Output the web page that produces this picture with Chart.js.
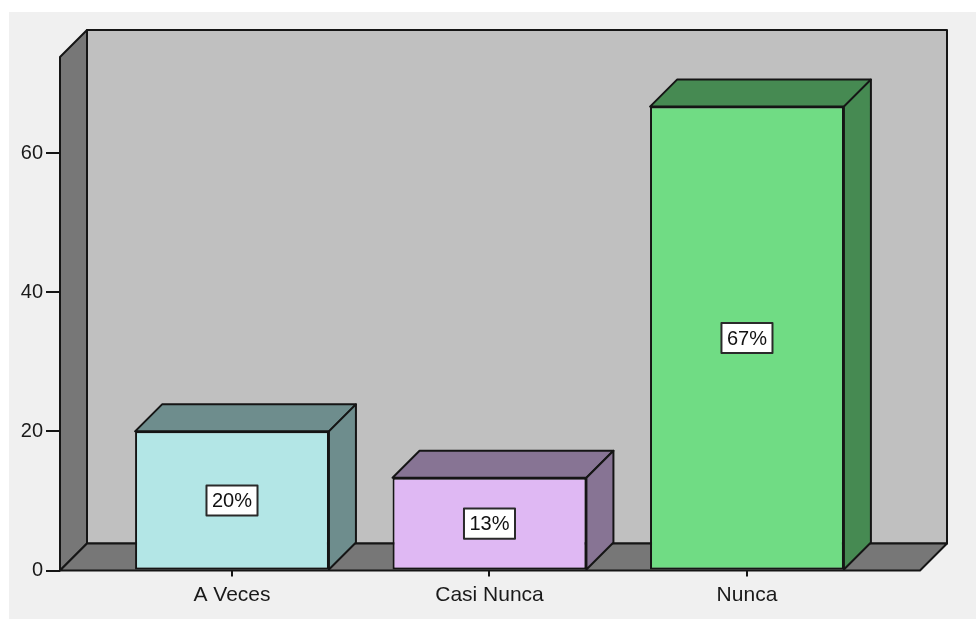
<!DOCTYPE html>
<html lang="es">
<head>
    <meta charset="UTF-8">
    <title>Frecuencia</title>
    <style>
        html, body { margin: 0; padding: 0; background: #ffffff; }
        #wrap { width: 976px; height: 619px; }
    </style>
</head>
<body>
    <div id="wrap"><canvas id="myChart"></canvas></div>

    <script src="https://cdn.jsdelivr.net/npm/chart.js"></script>
    <script>
        // Datos del gráfico
        const categorias = ['A Veces', 'Casi Nunca', 'Nunca'];
        const porcentajes = [20, 13.33, 66.67];
        const ticksY = [0, 20, 40, 60];

        const coloresFrente = ['#b3e6e6', '#dfb8f3', '#70dc84'];
        const coloresLado = ['#6e8d8d', '#877494', '#468a52'];

        const prof = 27; // profundidad del efecto 3D
        const fuente = '"Liberation Sans", Arial, sans-serif';

        // Fondo, paredes y piso
        const fondo3D = {
            id: 'fondo3D',
            beforeDraw(chart) {
                const ctx = chart.ctx;
                const a = chart.chartArea;
                ctx.save();
                ctx.fillStyle = '#ffffff';
                ctx.fillRect(0, 0, chart.width, chart.height);
                ctx.fillStyle = '#f0f0f0';
                ctx.fillRect(9, 12, chart.width - 9, chart.height - 12);

                ctx.lineWidth = 2;
                ctx.strokeStyle = '#151515';
                ctx.lineJoin = 'round';

                // pared del fondo
                ctx.fillStyle = '#c0c0c0';
                ctx.beginPath();
                ctx.rect(a.left + prof, a.top - prof, a.right - a.left, a.bottom - a.top);
                ctx.fill();
                ctx.stroke();

                // pared izquierda
                ctx.fillStyle = '#777777';
                ctx.beginPath();
                ctx.moveTo(a.left, a.top);
                ctx.lineTo(a.left + prof, a.top - prof);
                ctx.lineTo(a.left + prof, a.bottom - prof);
                ctx.lineTo(a.left, a.bottom);
                ctx.closePath();
                ctx.fill();
                ctx.stroke();

                // piso
                ctx.beginPath();
                ctx.moveTo(a.left, a.bottom);
                ctx.lineTo(a.left + prof, a.bottom - prof);
                ctx.lineTo(a.right + prof, a.bottom - prof);
                ctx.lineTo(a.right, a.bottom);
                ctx.closePath();
                ctx.fill();
                ctx.stroke();
                ctx.restore();
            }
        };

        // Caras superior y lateral de cada barra, y etiquetas de porcentaje
        const barras3D = {
            id: 'barras3D',
            afterDatasetsDraw(chart) {
                const ctx = chart.ctx;
                const meta = chart.getDatasetMeta(0);
                ctx.save();
                ctx.lineJoin = 'round';
                meta.data.forEach((bar, i) => {
                    const p = bar.getProps(['x', 'y', 'base', 'width'], true);
                    const izq = p.x - p.width / 2;
                    const der = p.x + p.width / 2;
                    ctx.lineWidth = 2;
                    ctx.strokeStyle = '#151515';
                    ctx.fillStyle = coloresLado[i];

                    ctx.beginPath();
                    ctx.moveTo(izq, p.y);
                    ctx.lineTo(izq + prof, p.y - prof);
                    ctx.lineTo(der + prof, p.y - prof);
                    ctx.lineTo(der, p.y);
                    ctx.closePath();
                    ctx.fill();
                    ctx.stroke();

                    ctx.beginPath();
                    ctx.moveTo(der, p.y);
                    ctx.lineTo(der + prof, p.y - prof);
                    ctx.lineTo(der + prof, p.base - prof);
                    ctx.lineTo(der, p.base);
                    ctx.closePath();
                    ctx.fill();
                    ctx.stroke();

                    // etiqueta
                    const texto = Math.round(porcentajes[i]) + '%';
                    ctx.font = '20px ' + fuente;
                    const w = ctx.measureText(texto).width + 11;
                    const h = 30;
                    const cy = (p.y + p.base) / 2;
                    ctx.fillStyle = '#ffffff';
                    ctx.fillRect(p.x - w / 2, cy - h / 2, w, h);
                    ctx.lineWidth = 2;
                    ctx.strokeStyle = '#2a2a2a';
                    ctx.strokeRect(p.x - w / 2, cy - h / 2, w, h);
                    ctx.fillStyle = '#111111';
                    ctx.textAlign = 'center';
                    ctx.textBaseline = 'middle';
                    ctx.fillText(texto, p.x, cy + 1);
                });
                ctx.restore();
            }
        };

        const ctx = document.getElementById('myChart').getContext('2d');
        new Chart(ctx, {
            type: 'bar',
            data: {
                datasets: [{
                    data: porcentajes.map((v, i) => ({ x: i, y: v })),
                    backgroundColor: coloresFrente,
                    borderColor: '#151515',
                    borderWidth: 2,
                    borderSkipped: false,
                    categoryPercentage: 1,
                    barPercentage: 0.753
                }]
            },
            options: {
                responsive: true,
                maintainAspectRatio: false,
                animation: false,
                layout: { padding: { top: 57, right: 56, left: 0, bottom: 0 } },
                plugins: {
                    legend: { display: false },
                    tooltip: { enabled: false }
                },
                scales: {
                    x: {
                        type: 'linear',
                        offset: false,
                        min: -0.668,
                        max: 2.672,
                        afterBuildTicks: (s) => { s.ticks = categorias.map((c, i) => ({ value: i })); },
                        afterFit: (s) => { s.height = 48.5; },
                        ticks: {
                            callback: (v) => categorias[v],
                            color: '#1a1a1a',
                            font: { family: fuente, size: 21 },
                            padding: 6,
                            maxRotation: 0
                        },
                        grid: {
                            offset: false,
                            drawOnChartArea: false,
                            drawTicks: true,
                            tickLength: 6,
                            color: '#151515',
                            lineWidth: 2
                        },
                        border: { display: false }
                    },
                    y: {
                        min: 0,
                        max: 73.8,
                        afterBuildTicks: (s) => { s.ticks = ticksY.map(v => ({ value: v })); },
                        afterFit: (s) => { s.width = 60; },
                        ticks: {
                            color: '#1a1a1a',
                            font: { family: fuente, size: 20 },
                            padding: 3
                        },
                        grid: {
                            drawOnChartArea: false,
                            drawTicks: true,
                            tickLength: 14,
                            color: '#151515',
                            lineWidth: 2
                        },
                        border: { display: false }
                    }
                }
            },
            plugins: [fondo3D, barras3D]
        });
    </script>
</body>
</html>
